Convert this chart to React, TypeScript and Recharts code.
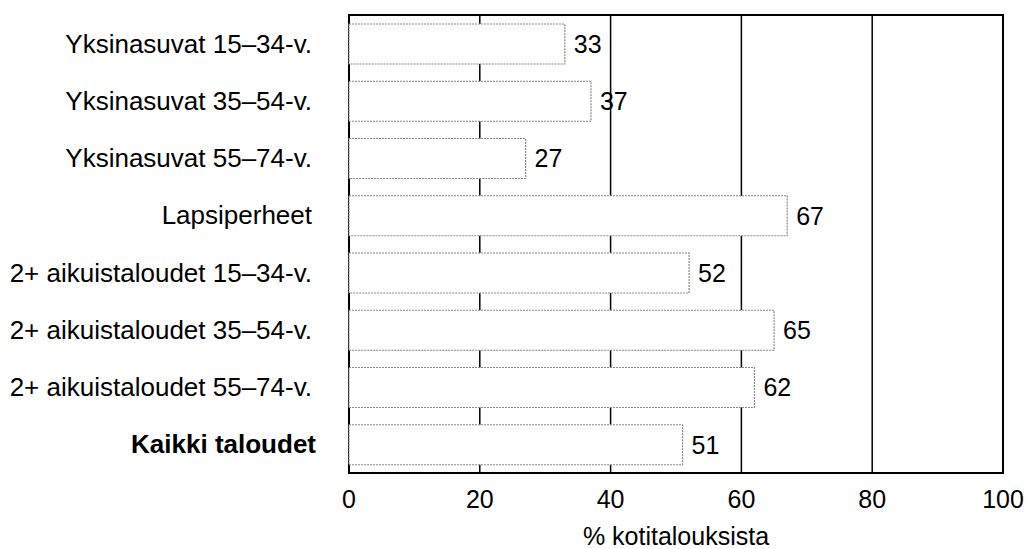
import React from 'react';
import {
  BarChart,
  Bar,
  XAxis,
  YAxis,
  CartesianGrid,
  LabelList,
  ReferenceArea,
} from 'recharts';

const categories = [
  'Yksinasuvat 15–34-v.',
  'Yksinasuvat 35–54-v.',
  'Yksinasuvat 55–74-v.',
  'Lapsiperheet',
  '2+ aikuistaloudet 15–34-v.',
  '2+ aikuistaloudet 35–54-v.',
  '2+ aikuistaloudet 55–74-v.',
  'Kaikki taloudet',
];
const shares = [33, 37, 27, 67, 52, 65, 62, 51];
const xTicks = [0, 20, 40, 60, 80, 100];
const boldCategory = 'Kaikki taloudet';

const data = categories.map((name, i) => ({ name, value: shares[i] }));

const font = '"Liberation Sans", Arial, sans-serif';

const CategoryTick = (props) => {
  const { x, y, payload } = props;
  const bold = payload.value === boldCategory;
  return (
    <text
      x={bold ? x + 4 : x}
      y={y}
      dy={9}
      textAnchor="end"
      fill="#000"
      fontSize={26}
      fontFamily={font}
      fontWeight={bold ? 'bold' : 'normal'}
    >
      {payload.value}
    </text>
  );
};

const App = () => {
  return (
    <div style={{ position: 'absolute', left: 0, top: 0, background: '#fff' }}>
      <BarChart
        width={1026}
        height={549}
        data={data}
        layout="vertical"
        margin={{ top: 15, right: 23, bottom: 0, left: 0 }}
        barSize={40}
      >
        <CartesianGrid
          horizontal={false}
          vertical={true}
          stroke="#000"
          strokeWidth={1.5}
        />
        <XAxis
          type="number"
          domain={[0, 100]}
          ticks={xTicks}
          tickLine={false}
          axisLine={false}
          tickMargin={11}
          height={76}
          tick={{ fill: '#000', fontSize: 25, fontFamily: font }}
          label={{
            value: '% kotitalouksista',
            position: 'insideBottom',
            offset: 4,
            fill: '#000',
            fontSize: 25,
            fontFamily: font,
          }}
        />
        <YAxis
          type="category"
          dataKey="name"
          width={349}
          tickLine={false}
          axisLine={false}
          tickMargin={31}
          interval={0}
          tick={<CategoryTick />}
        />
        <Bar
          dataKey="value"
          fill="#fff"
          stroke="#888"
          strokeWidth={1.2}
          strokeDasharray="2 1"
          isAnimationActive={false}
        >
          <LabelList
            dataKey="value"
            position="right"
            offset={9}
            fill="#000"
            fontSize={25}
            fontFamily={font}
          />
        </Bar>
        <ReferenceArea
          x1={0}
          x2={100}
          fill="none"
          stroke="#000"
          strokeWidth={2}
          ifOverflow="visible"
        />
      </BarChart>
    </div>
  );
};

export default App;
